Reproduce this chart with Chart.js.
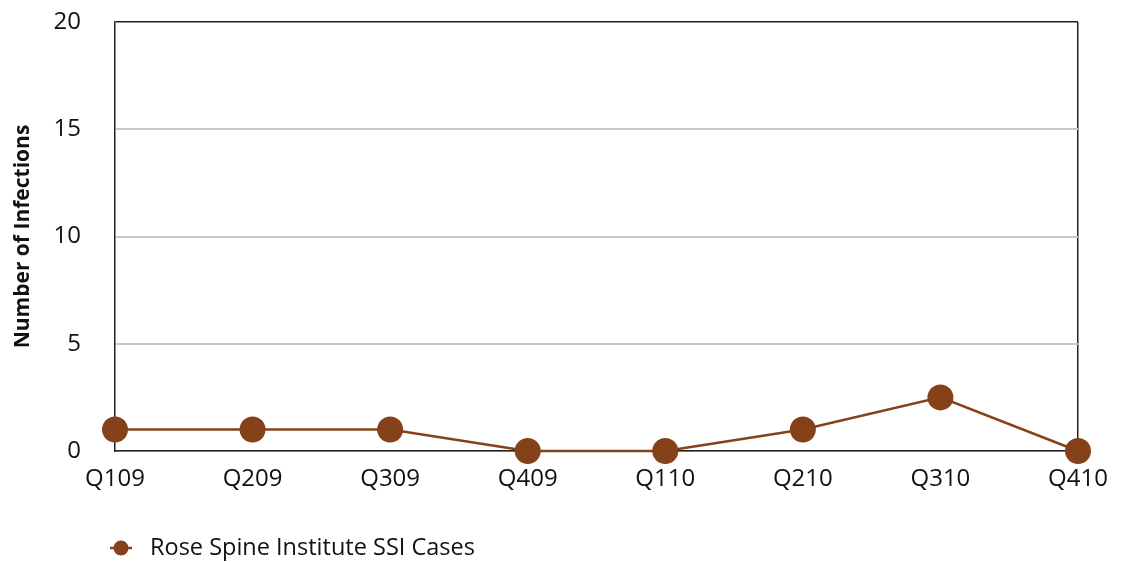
<!DOCTYPE html>
<html>
<head>
<meta charset="utf-8">
<script src="https://cdn.jsdelivr.net/npm/chart.js@4/dist/chart.umd.min.js"></script>
<style>
  html, body { margin: 0; padding: 0; background: #fff; }
  #wrap { width: 1126px; height: 562px; position: relative; }
</style>
</head>
<body>
<div id="wrap"><canvas id="ssiChart"></canvas></div>
<script>
// data
const quarters = ['Q109', 'Q209', 'Q309', 'Q409', 'Q110', 'Q210', 'Q310', 'Q410'];
const ssiCases = [1, 1, 1, 0, 0, 1, 2.5, 0];
const yTicks = [0, 5, 10, 15, 20];
const seriesName = 'Rose Spine Institute SSI Cases';

const BROWN = '#854119';
const FONT = "'Open Sans', 'Noto Sans', sans-serif";

// legend drawn by hand so it can sit under the plot's left edge
const legendPlugin = {
    id: 'manualLegend',
    afterDraw(chart) {
        const ctx = chart.ctx;
        const x = chart.chartArea.left - 5;
        const y = 548;
        ctx.save();
        ctx.strokeStyle = BROWN;
        ctx.lineWidth = 2.5;
        ctx.beginPath();
        ctx.moveTo(x, y);
        ctx.lineTo(x + 22, y);
        ctx.stroke();
        ctx.fillStyle = BROWN;
        ctx.beginPath();
        ctx.arc(x + 11, y, 7.5, 0, Math.PI * 2);
        ctx.fill();
        ctx.fillStyle = '#111';
        ctx.font = "23.5px " + FONT;
        ctx.textBaseline = 'middle';
        ctx.fillText(seriesName, x + 40, y);
        ctx.restore();
    }
};

const ctx = document.getElementById('ssiChart').getContext('2d');
new Chart(ctx, {
    type: 'line',
    data: {
        labels: quarters,
        datasets: [{
            label: seriesName,
            data: ssiCases,
            borderColor: BROWN,
            backgroundColor: BROWN,
            borderWidth: 2.5,
            pointRadius: 13,
            pointHoverRadius: 13,
            pointBorderWidth: 0,
            tension: 0,
            clip: false
        }]
    },
    options: {
        responsive: true,
        maintainAspectRatio: false,
        animation: false,
        layout: { padding: { left: 10, right: 48, top: 22, bottom: 70 } },
        plugins: {
            legend: { display: false },
            tooltip: { enabled: false }
        },
        scales: {
            x: {
                offset: false,
                grid: {
                    drawTicks: false,
                    color: c => c.index === quarters.length - 1 ? '#222' : 'rgba(0,0,0,0)',
                    lineWidth: 1.5
                },
                border: { color: '#222', width: 1.5 },
                ticks: { padding: 14, color: '#111', font: { family: FONT, size: 24 }, maxRotation: 0 },
                afterFit: s => { s.height = 41; }
            },
            y: {
                min: 0,
                max: 20,
                afterBuildTicks: s => { s.ticks = yTicks.map(v => ({ value: v })); },
                grid: {
                    drawTicks: false,
                    color: c => c.tick.value === 20 ? '#222' : '#c6c6cb',
                    lineWidth: c => c.tick.value === 20 ? 1.5 : 2
                },
                border: { color: '#222', width: 1.5 },
                ticks: { padding: 34, color: '#111', font: { family: FONT, size: 24 } },
                title: {
                    display: true,
                    text: 'Number of Infections',
                    color: '#111',
                    font: { family: FONT, size: 21, weight: 'bold' },
                    padding: { top: 0, bottom: 0 }
                },
                afterFit: s => {
                    s.width = 105;
                    s.paddingTop = 0;
                    s.paddingBottom = 0;
                }
            }
        }
    },
    plugins: [legendPlugin]
});
</script>
</body>
</html>
